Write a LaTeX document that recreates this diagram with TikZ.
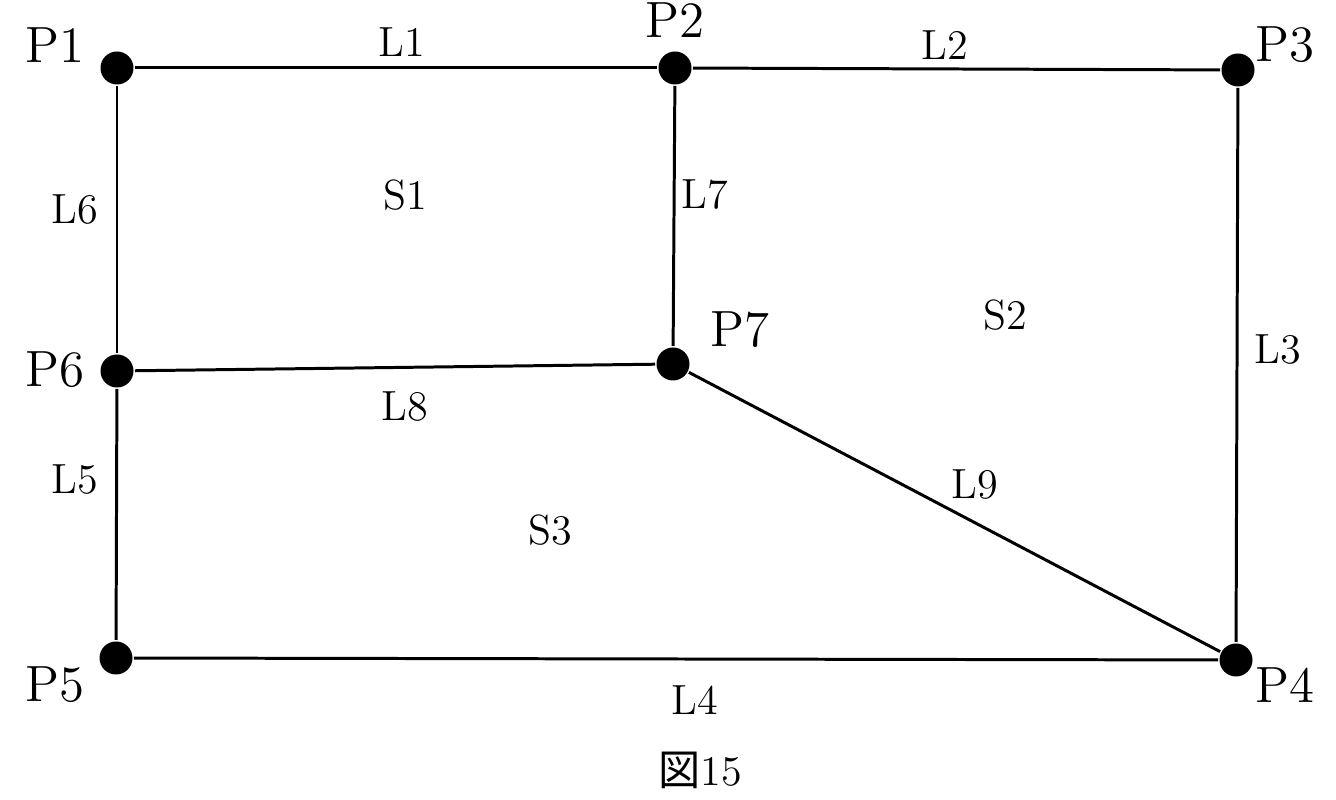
\documentclass[tikz,border=0pt]{standalone}
\usepackage{fontspec}
\newfontfamily\jpfont{Noto Sans CJK JP}
\tikzset{
  pt/.style={circle,fill,inner sep=0pt,minimum size=3.3mm},
  ptname/.style={font=\fontsize{14.5}{15}\selectfont},
  lnname/.style={font=\fontsize{12}{13}\selectfont}
}
\begin{document}
\begin{tikzpicture}[line width=0.85pt]
      \useasboundingbox (0,0) rectangle (13.36,8);
      \draw
        (1.17,7.32) node[pt] (P1){}
        (6.75,7.32) node[pt] (P2){}
        (12.38,7.30) node[pt] (P3){}
        (12.36,1.40) node[pt] (P4){}
        (1.16,1.42) node[pt] (P5){}
        (1.17,4.29) node[pt] (P6){}
        (6.73,4.36) node[pt] (P7){};
      \begin{scope}[-]
        \draw (P1) to (P2);
        \draw (P2) to (P3);
        \draw (P3) to (P4);
        \draw (P4) to (P5);
        \draw (P5) to (P6);
        \draw (P6) to (P1);
        \draw (P2) to (P7);
        \draw (P6) to (P7);
        \draw (P7) to (P4);
      \end{scope}
      \draw[ptname]
        (0.55,7.55) node (tP1){P1}
        (6.75,7.80) node (tP2){P2}
        (12.85,7.55) node (tP3){P3}
        (12.85,1.15) node (tP4){P4}
        (0.55,1.15) node (tP5){P5}
        (0.55,4.30) node (tP6){P6}
        (7.40,4.70) node (tP7){P7};
      \draw[lnname]
        (4.02,7.58) node (tL1){L1}
        (9.45,7.55) node (tL2){L2}
        (12.78,4.50) node (tL3){L3}
        (6.95,1.00) node (tL4){L4}
        (0.75,3.20) node (tL5){L5}
        (0.75,5.90) node (tL6){L6}
        (7.05,6.05) node (tL7){L7}
        (4.05,3.93) node (tL8){L8}
        (9.75,3.15) node (tL9){L9}
        (4.05,6.05) node (tS1){S1}
        (10.05,4.85) node (tS2){S2}
        (5.50,2.70) node (tS3){S3};
      \node[lnname] (fig) at (7.00,0.30) {{\jpfont 図}15};
    \end{tikzpicture}
\end{document}
